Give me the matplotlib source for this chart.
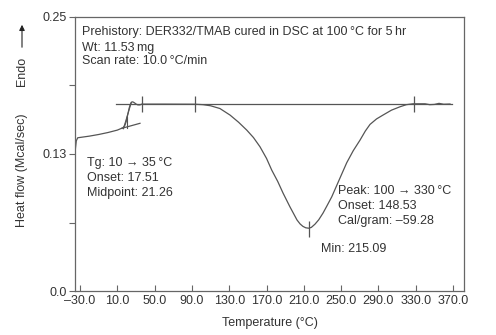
import matplotlib
matplotlib.use('Agg')
from matplotlib import pyplot as plt
import numpy as np

plt.rcParams['font.family'] = ['Liberation Sans', 'DejaVu Sans']
plt.rcParams['font.size'] = 9

# DSC trace: temperature (degC) vs heat flow (Mcal/sec)
temp = [-35.4, -34.8, -34.0, -32.5, -20.0, -10.0, 0.0, 10.0, 16.1, 18.0,
        19.5, 20.4, 21.5, 22.6, 23.6, 24.8, 25.8, 27.0, 28.5, 30.0, 32.0,
        34.3, 36.1, 60.0, 93.3, 102.0, 110.0, 120.0, 130.9, 140.0, 148.8,
        156.0, 163.0, 170.0, 175.6, 182.0, 187.7, 195.0, 202.7, 206.0, 209.0,
        212.0, 215.1, 218.0, 222.0, 226.0, 230.6, 235.0, 240.0, 248.8, 256.0,
        263.0, 270.3, 276.0, 281.0, 288.0, 294.9, 304.0, 313.2, 320.0, 327.1,
        334.0, 340.0, 345.0, 350.0, 355.0, 360.0, 366.8]
heat = [0.1259, 0.1310, 0.1370, 0.1398, 0.1413, 0.1428, 0.1446, 0.1468,
        0.1490, 0.1510, 0.1545, 0.1580, 0.1622, 0.1665, 0.1695, 0.1718,
        0.1726, 0.1724, 0.1716, 0.1706, 0.1698, 0.1698, 0.1705, 0.1705,
        0.1704, 0.1700, 0.1690, 0.1665, 0.1605, 0.1540, 0.1468, 0.1400,
        0.1316, 0.1210, 0.1103, 0.1000, 0.0894, 0.0770, 0.0648, 0.0612,
        0.0590, 0.0577, 0.0573, 0.0580, 0.0610, 0.0650, 0.0711, 0.0780,
        0.0860, 0.1031, 0.1170, 0.1280, 0.1377, 0.1460, 0.1520, 0.1570,
        0.1605, 0.1650, 0.1681, 0.1700, 0.1708, 0.1708, 0.1708, 0.1700,
        0.1702, 0.1712, 0.1704, 0.1706]

# construction lines for the transition analysis
baseline_x = [8.3, 369.0]
baseline_y = [0.1708, 0.1708]
lower_tangent_x = [14.7, 34.3]
lower_tangent_y = [0.1484, 0.1530]
steep_tangent_x = [16.5, 25.0]
steep_tangent_y = [0.1480, 0.1720]
mid_marker_x = [20.1, 20.1]
mid_marker_y = [0.1490, 0.1590]

# limit markers (x, y)
markers_x = [36.1, 93.3, 328.2, 215.09]
markers_y = [0.1705, 0.1705, 0.1708, 0.0565]

xticks = [-30, 10, 50, 90, 130, 170, 210, 250, 290, 330, 370]
xtick_labels = ['\u201330.0', '10.0', '50.0', '90.0', '130.0', '170.0',
                '210.0', '250.0', '290.0', '330.0', '370.0']
yticks = [0.0, 0.0625, 0.125, 0.1875, 0.25]
ytick_labels = ['0.0', '', '0.13', '', '0.25']

header = ['Prehistory: DER332/TMAB cured in DSC at 100\u2009\u00b0C for 5\u2009hr',
          'Wt: 11.53\u2009mg',
          'Scan rate: 10.0\u2009\u00b0C/min']
tg_text = ['Tg: 10 \u2192 35\u2009\u00b0C', 'Onset: 17.51', 'Midpoint: 21.26']
peak_text = ['Peak: 100 \u2192 330\u2009\u00b0C', 'Onset: 148.53',
             'Cal/gram: \u201359.28']
min_text = 'Min: 215.09'

line_color = '#555555'
text_color = '#333333'

fig = plt.figure(figsize=(4.96, 3.35), dpi=100)
ax = fig.add_axes([0.1512, 0.1313, 0.7843, 0.818])

ax.plot(temp, heat, color=line_color, lw=0.9)
ax.plot(baseline_x, baseline_y, color=line_color, lw=0.9)
ax.plot(lower_tangent_x, lower_tangent_y, color=line_color, lw=0.9)
ax.plot(steep_tangent_x, steep_tangent_y, color=line_color, lw=0.8)
ax.plot(mid_marker_x, mid_marker_y, color=line_color, lw=0.8)
ax.plot(markers_x, markers_y, ls='none', marker='|', ms=11, mew=0.9,
        color=line_color)

ax.set_xlim(-35.4, 381.8)
ax.set_ylim(0, 0.25)
ax.set_xticks(xticks)
ax.set_xticklabels(xtick_labels)
ax.set_yticks(yticks)
ax.set_yticklabels(ytick_labels)
ax.tick_params(axis='x', direction='in', length=4, color='#666666',
               labelcolor=text_color, labelsize=9, pad=3)
ax.tick_params(axis='y', direction='out', length=4, color='#666666',
               labelcolor=text_color, labelsize=9, pad=2)
for s in ax.spines.values():
    s.set_color('#666666')
    s.set_linewidth(0.9)

for i, t in enumerate(header):
    ax.text(-27.9, [0.2362, 0.2216, 0.2098][i], t, va='center', ha='left',
            color=text_color)
for i, t in enumerate(tg_text):
    ax.text(-22.5, [0.1167, 0.1031, 0.0894][i], t, va='center', ha='left',
            color=text_color)
for i, t in enumerate(peak_text):
    ax.text(246.7, [0.0912, 0.0775, 0.0638][i], t, va='center', ha='left',
            color=text_color)
ax.text(228.1, 0.0383, min_text, va='center', ha='left', color=text_color)

ax.set_xlabel('Temperature (\u00b0C)', color=text_color, fontsize=9,
              labelpad=7)
fig.text(22 / 496, 1 - 170 / 335, 'Heat flow (Mcal/sec)', rotation=90,
         ha='center', va='center', color=text_color, fontsize=9)
fig.text(22 / 496, 1 - 71 / 335, 'Endo', rotation=90, ha='center',
         va='center', color=text_color, fontsize=9)
fig.add_artist(matplotlib.patches.FancyArrowPatch(
    (22 / 496, 1 - 50 / 335), (22 / 496, 1 - 22 / 335),
    transform=fig.transFigure, arrowstyle='-|>', mutation_scale=8,
    color='#222222', lw=0.8))

fig.savefig('out.png', dpi=100)
